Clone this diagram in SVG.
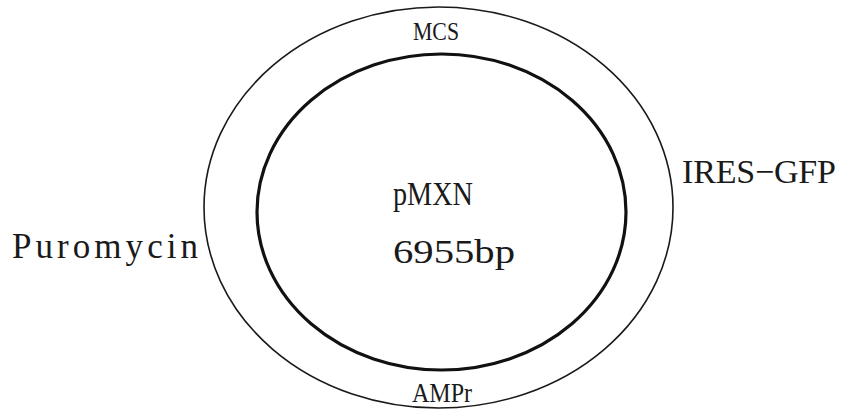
<svg xmlns="http://www.w3.org/2000/svg" width="843" height="410" viewBox="0 0 843 410">
<style>
text{font-family:"Liberation Serif","Times New Roman",serif;fill:#1a1a1a}
.outer{fill:none;stroke:#1a1a1a;stroke-width:1.6}
.inner{fill:none;stroke:#111;stroke-width:3.2}
</style>
<rect width="843" height="410" fill="#fff"/>
<g id="plasmid">
<ellipse class="outer" cx="438.5" cy="207.5" rx="234.5" ry="200.5"/>
<ellipse class="inner" cx="441.5" cy="212" rx="184.5" ry="158"/>
</g>
<g id="label-center">
<text x="393" y="205" font-size="34" textLength="80" lengthAdjust="spacingAndGlyphs">pMXN</text>
<text x="393" y="263" font-size="34" textLength="122" lengthAdjust="spacingAndGlyphs">6955bp</text>
</g>
<g id="label-mcs"><text x="413" y="40" font-size="26" textLength="46" lengthAdjust="spacingAndGlyphs">MCS</text></g>
<g id="label-ampr"><text x="412" y="402" font-size="28" textLength="60" lengthAdjust="spacingAndGlyphs">AMPr</text></g>
<g id="label-puro"><text x="12" y="258" font-size="35" textLength="186" lengthAdjust="spacing">Puromycin</text></g>
<g id="label-ires"><text x="682" y="183" font-size="34" textLength="154" lengthAdjust="spacing">IRES−GFP</text></g>
</svg>
